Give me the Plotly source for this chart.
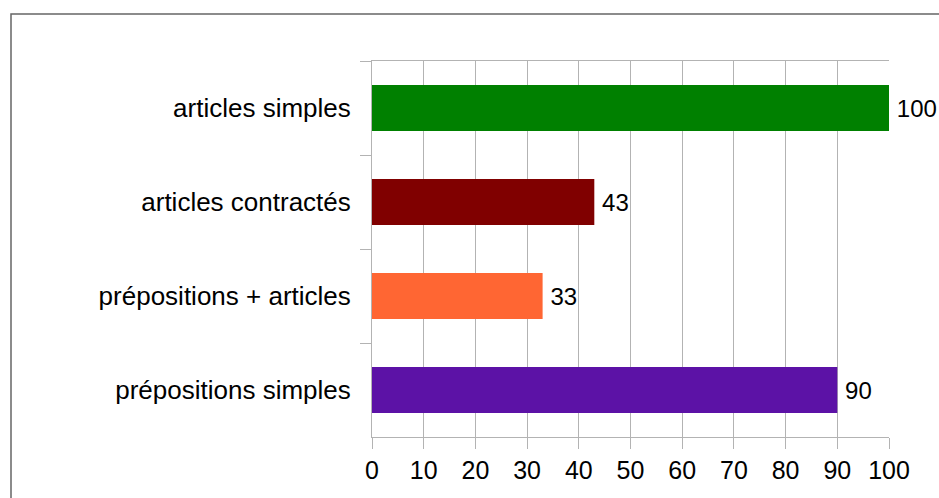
import plotly.graph_objects as go

categories = ["articles simples", "articles contractés", "prépositions + articles", "prépositions simples"]
values = [100, 43, 33, 90]
colors = ["#008000", "#800000", "#ff6633", "#5c12a6"]
x_ticks = [0, 10, 20, 30, 40, 50, 60, 70, 80, 90, 100]

W, H = 939, 498
L, R, T, B = 372, 50, 61, 61
pw, ph = W - L - R, H - T - B

def px_x(px):
    return (px - L) / pw

def px_y(py):
    return (H - B - py) / ph

fig = go.Figure(
    go.Bar(
        x=values,
        y=categories,
        orientation="h",
        marker=dict(color=colors, line=dict(width=0)),
        width=0.49,
        text=["\u2009" + str(v) for v in values],
        textposition="outside",
        textfont=dict(size=24, color="#000000"),
        cliponaxis=False,
    )
)

fig.update_layout(
    width=W,
    height=H,
    margin=dict(l=L, r=R, t=T, b=B, pad=0),
    paper_bgcolor="white",
    plot_bgcolor="white",
    font=dict(family="Liberation Sans, Arial, sans-serif", size=24, color="#000000"),
    showlegend=False,
    xaxis=dict(
        range=[0, 100],
        tickvals=x_ticks,
        showgrid=True,
        gridcolor="#b3b3b3",
        gridwidth=1,
        showline=True,
        linecolor="#b3b3b3",
        linewidth=1,
        mirror=True,
        ticks="outside",
        ticklen=11,
        tickcolor="#b3b3b3",
        tickfont=dict(size=25),
        zeroline=False,
        fixedrange=True,
    ),
    yaxis=dict(
        autorange="reversed",
        showgrid=False,
        showline=True,
        linecolor="#b3b3b3",
        linewidth=1,
        ticks="outside",
        ticklen=11,
        tickcolor="#b3b3b3",
        tickson="boundaries",
        tickfont=dict(size=26),
        ticklabelstandoff=15,
        fixedrange=True,
    ),
    shapes=[
        dict(
            type="rect",
            xref="paper",
            yref="paper",
            x0=px_x(11),
            x1=px_x(960),
            y0=px_y(520),
            y1=px_y(14),
            line=dict(color="#666666", width=1.5),
            fillcolor="rgba(0,0,0,0)",
            layer="below",
        )
    ],
)

page_fix = (
    "document.documentElement.style.margin='0';"
    "document.documentElement.style.overflow='hidden';"
    "document.body.style.margin='0';"
    "document.body.style.overflow='hidden';"
)

fig.write_html(
    "out.html",
    post_script=page_fix,
    config={"displayModeBar": False, "staticPlot": True},
)
